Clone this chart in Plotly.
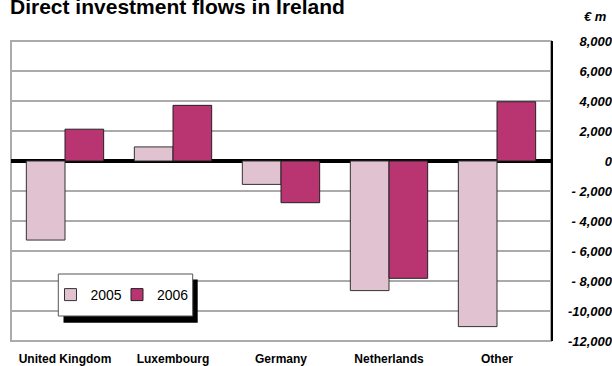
import plotly.graph_objects as go

categories = ["United Kingdom", "Luxembourg", "Germany", "Netherlands", "Other"]
values_2005 = [-5270, 940, -1560, -8640, -11040]
values_2006 = [2120, 3710, -2780, -7820, 3950]
tick_values = [8000, 6000, 4000, 2000, 0, -2000, -4000, -6000, -8000, -10000, -12000]
tick_labels = ["8,000", "6,000", "4,000", "2,000", "0", "- 2,000", "- 4,000", "- 6,000", "- 8,000", "-10,000", "-12,000"]

FONT = "Arial, 'Liberation Sans', sans-serif"
W, H = 612, 366
L, R, T, B = 11, 0, 41, 25
PW = W - L - R
PH = H - T - B

def px(x):
    return (x - L) / PW

def py(y):
    return (H - B - y) / PH

fig = go.Figure()
fig.add_trace(go.Bar(name="2005", x=categories, y=values_2005, legend="legend",
                     marker=dict(color="#E0C2D0", line=dict(color="#333333", width=1))))
fig.add_trace(go.Bar(name="2006", x=categories, y=values_2006, legend="legend2",
                     marker=dict(color="#B83571", line=dict(color="#222222", width=1))))
fig.add_trace(go.Scatter(x=[categories[0]], y=[0], yaxis="y2", mode="markers",
                         marker=dict(opacity=0), showlegend=False, hoverinfo="skip"))

legend_common = dict(orientation="h", xanchor="left", y=py(295), yanchor="middle",
                     bgcolor="rgba(0,0,0,0)", borderwidth=0,
                     font=dict(size=14, family=FONT, color="black"))

fig.update_layout(
    width=W, height=H,
    margin=dict(l=L, r=R, t=T, b=B, pad=0),
    paper_bgcolor="white", plot_bgcolor="white",
    barmode="group", bargap=0.284, bargroupgap=0,
    font=dict(family=FONT, color="black"),
    title=dict(text="<b>Direct investment flows in Ireland</b>",
               font=dict(size=21, family=FONT, color="black"),
               xref="container", yref="container",
               x=10 / W, xanchor="left", y=1 - 7 / H, yanchor="middle"),
    xaxis=dict(domain=[0, 540 / PW], showgrid=False, zeroline=False, showline=False,
               ticks="", tickfont=dict(size=12, family=FONT, weight="bold", color="black"),
               ticklabelstandoff=9),
    yaxis=dict(range=[-12000, 8000], tickvals=tick_values, side="right", anchor="x",
               showticklabels=False, ticks="",
               showgrid=True, gridcolor="#ababab", gridwidth=2,
               zeroline=True, zerolinecolor="black", zerolinewidth=4,
               showline=True, linecolor="black", linewidth=2),
    yaxis2=dict(range=[-12000, 8000], overlaying="y", anchor="free", position=1, side="left",
                tickvals=tick_values, ticktext=tick_labels, ticks="",
                showgrid=False, zeroline=False, showline=False,
                tickfont=dict(size=13, family=FONT, weight="bold", style="italic", color="black")),
    legend=dict(x=px(50.5), **legend_common),
    legend2=dict(x=px(117), **legend_common),
    showlegend=True,
)

shapes = [
    dict(type="rect", xref="x domain", yref="y domain", x0=0, x1=1, y0=0, y1=1,
         line=dict(color="#ababab", width=2), layer="below"),
    dict(type="rect", xref="paper", yref="paper", x0=px(63.5), x1=px(197.7), y0=py(279.5), y1=py(322.7),
         fillcolor="black", line=dict(width=0), layer="above"),
    dict(type="rect", xref="paper", yref="paper", x0=px(58.3), x1=px(192.7), y0=py(274), y1=py(316),
         fillcolor="white", line=dict(color="#555555", width=1), layer="above"),
]
fig.update_layout(shapes=shapes)

fig.add_annotation(text="<b><i>€ m</i></b>", xref="paper", yref="paper",
                   x=px(609), y=py(17), xanchor="right", yanchor="middle", showarrow=False,
                   font=dict(size=13, family=FONT, color="black"))

fig.write_html("out.html", config={"displayModeBar": False},
               post_script="document.body.style.margin='0px';")
